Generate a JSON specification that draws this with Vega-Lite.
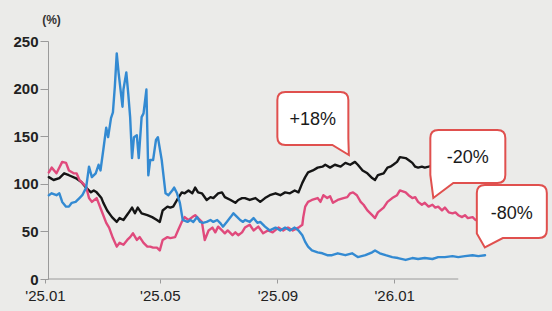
{
  "$schema": "https://vega.github.io/schema/vega-lite/v6.json",
  "width": 463,
  "height": 238,
  "autosize": {"type": "none"},
  "padding": {"left": 45, "top": 41, "right": 44, "bottom": 32},
  "background": "#ebebe9",
  "config": {"view": {"stroke": null}, "font": "Liberation Sans, Arial, sans-serif"},
  "datasets": {
    "axisline": [{"date": "2025-01-04", "date2": "2026-03-09", "value": 0}],
    "callouts": [
      {"label": "+18%", "date": "2025-10-08", "value": 168.6},
      {"label": "-20%", "date": "2026-03-19", "value": 128.7},
      {"label": "-80%", "date": "2026-05-04", "value": 70.9}
    ],
    "prices": [
      {"series": "s1", "date": "2025-01-05", "value": 107},
      {"series": "s1", "date": "2025-01-10", "value": 104},
      {"series": "s1", "date": "2025-01-16", "value": 106},
      {"series": "s1", "date": "2025-01-21", "value": 111},
      {"series": "s1", "date": "2025-01-26", "value": 109},
      {"series": "s1", "date": "2025-02-02", "value": 106},
      {"series": "s1", "date": "2025-02-08", "value": 102},
      {"series": "s1", "date": "2025-02-13", "value": 96},
      {"series": "s1", "date": "2025-02-18", "value": 91},
      {"series": "s1", "date": "2025-02-21", "value": 93},
      {"series": "s1", "date": "2025-02-24", "value": 91},
      {"series": "s1", "date": "2025-03-01", "value": 85},
      {"series": "s1", "date": "2025-03-03", "value": 80},
      {"series": "s1", "date": "2025-03-07", "value": 72},
      {"series": "s1", "date": "2025-03-12", "value": 65},
      {"series": "s1", "date": "2025-03-17", "value": 60},
      {"series": "s1", "date": "2025-03-20", "value": 64},
      {"series": "s1", "date": "2025-03-24", "value": 62},
      {"series": "s1", "date": "2025-03-29", "value": 69},
      {"series": "s1", "date": "2025-04-02", "value": 75},
      {"series": "s1", "date": "2025-04-05", "value": 69},
      {"series": "s1", "date": "2025-04-08", "value": 75},
      {"series": "s1", "date": "2025-04-12", "value": 69},
      {"series": "s1", "date": "2025-04-18", "value": 67},
      {"series": "s1", "date": "2025-04-23", "value": 65},
      {"series": "s1", "date": "2025-04-28", "value": 62},
      {"series": "s1", "date": "2025-05-01", "value": 60},
      {"series": "s1", "date": "2025-05-04", "value": 72},
      {"series": "s1", "date": "2025-05-09", "value": 76},
      {"series": "s1", "date": "2025-05-12", "value": 75},
      {"series": "s1", "date": "2025-05-15", "value": 76},
      {"series": "s1", "date": "2025-05-19", "value": 83},
      {"series": "s1", "date": "2025-05-24", "value": 91},
      {"series": "s1", "date": "2025-05-27", "value": 90},
      {"series": "s1", "date": "2025-05-31", "value": 93},
      {"series": "s1", "date": "2025-06-04", "value": 90},
      {"series": "s1", "date": "2025-06-07", "value": 96},
      {"series": "s1", "date": "2025-06-10", "value": 91},
      {"series": "s1", "date": "2025-06-14", "value": 90},
      {"series": "s1", "date": "2025-06-19", "value": 83},
      {"series": "s1", "date": "2025-06-23", "value": 86},
      {"series": "s1", "date": "2025-06-26", "value": 85},
      {"series": "s1", "date": "2025-07-01", "value": 90},
      {"series": "s1", "date": "2025-07-05", "value": 91},
      {"series": "s1", "date": "2025-07-08", "value": 86},
      {"series": "s1", "date": "2025-07-14", "value": 83},
      {"series": "s1", "date": "2025-07-19", "value": 80},
      {"series": "s1", "date": "2025-07-22", "value": 83},
      {"series": "s1", "date": "2025-07-26", "value": 85},
      {"series": "s1", "date": "2025-07-29", "value": 85},
      {"series": "s1", "date": "2025-08-03", "value": 83},
      {"series": "s1", "date": "2025-08-09", "value": 85},
      {"series": "s1", "date": "2025-08-14", "value": 81},
      {"series": "s1", "date": "2025-08-19", "value": 85},
      {"series": "s1", "date": "2025-08-24", "value": 88},
      {"series": "s1", "date": "2025-08-30", "value": 90},
      {"series": "s1", "date": "2025-09-04", "value": 88},
      {"series": "s1", "date": "2025-09-09", "value": 91},
      {"series": "s1", "date": "2025-09-14", "value": 90},
      {"series": "s1", "date": "2025-09-19", "value": 93},
      {"series": "s1", "date": "2025-09-23", "value": 91},
      {"series": "s1", "date": "2025-09-27", "value": 101},
      {"series": "s1", "date": "2025-09-30", "value": 107},
      {"series": "s1", "date": "2025-10-03", "value": 112},
      {"series": "s1", "date": "2025-10-08", "value": 114},
      {"series": "s1", "date": "2025-10-13", "value": 117},
      {"series": "s1", "date": "2025-10-18", "value": 118},
      {"series": "s1", "date": "2025-10-21", "value": 120},
      {"series": "s1", "date": "2025-10-26", "value": 117},
      {"series": "s1", "date": "2025-10-31", "value": 120},
      {"series": "s1", "date": "2025-11-06", "value": 118},
      {"series": "s1", "date": "2025-11-11", "value": 122},
      {"series": "s1", "date": "2025-11-16", "value": 120},
      {"series": "s1", "date": "2025-11-21", "value": 123},
      {"series": "s1", "date": "2025-11-24", "value": 120},
      {"series": "s1", "date": "2025-11-29", "value": 114},
      {"series": "s1", "date": "2025-12-04", "value": 111},
      {"series": "s1", "date": "2025-12-09", "value": 106},
      {"series": "s1", "date": "2025-12-12", "value": 104},
      {"series": "s1", "date": "2025-12-15", "value": 109},
      {"series": "s1", "date": "2025-12-21", "value": 111},
      {"series": "s1", "date": "2025-12-25", "value": 117},
      {"series": "s1", "date": "2025-12-28", "value": 118},
      {"series": "s1", "date": "2025-12-31", "value": 120},
      {"series": "s1", "date": "2026-01-04", "value": 123},
      {"series": "s1", "date": "2026-01-07", "value": 128},
      {"series": "s1", "date": "2026-01-13", "value": 127},
      {"series": "s1", "date": "2026-01-16", "value": 125},
      {"series": "s1", "date": "2026-01-20", "value": 122},
      {"series": "s1", "date": "2026-01-23", "value": 118},
      {"series": "s1", "date": "2026-01-26", "value": 117},
      {"series": "s1", "date": "2026-01-30", "value": 118},
      {"series": "s1", "date": "2026-02-02", "value": 117},
      {"series": "s1", "date": "2026-02-06", "value": 118},
      {"series": "s1", "date": "2026-02-13", "value": 120},
      {"series": "s1", "date": "2026-02-23", "value": 118},
      {"series": "s1", "date": "2026-03-06", "value": 122},
      {"series": "s1", "date": "2026-03-16", "value": 119},
      {"series": "s1", "date": "2026-03-27", "value": 120},
      {"series": "s1", "date": "2026-04-06", "value": 118},
      {"series": "s2", "date": "2025-01-05", "value": 112},
      {"series": "s2", "date": "2025-01-08", "value": 117},
      {"series": "s2", "date": "2025-01-13", "value": 111},
      {"series": "s2", "date": "2025-01-19", "value": 123},
      {"series": "s2", "date": "2025-01-23", "value": 122},
      {"series": "s2", "date": "2025-01-26", "value": 114},
      {"series": "s2", "date": "2025-01-31", "value": 111},
      {"series": "s2", "date": "2025-02-03", "value": 111},
      {"series": "s2", "date": "2025-02-06", "value": 104},
      {"series": "s2", "date": "2025-02-09", "value": 101},
      {"series": "s2", "date": "2025-02-13", "value": 97},
      {"series": "s2", "date": "2025-02-16", "value": 85},
      {"series": "s2", "date": "2025-02-19", "value": 81},
      {"series": "s2", "date": "2025-02-24", "value": 85},
      {"series": "s2", "date": "2025-03-01", "value": 72},
      {"series": "s2", "date": "2025-03-06", "value": 59},
      {"series": "s2", "date": "2025-03-09", "value": 54},
      {"series": "s2", "date": "2025-03-13", "value": 43},
      {"series": "s2", "date": "2025-03-17", "value": 34},
      {"series": "s2", "date": "2025-03-20", "value": 38},
      {"series": "s2", "date": "2025-03-24", "value": 36},
      {"series": "s2", "date": "2025-03-28", "value": 41},
      {"series": "s2", "date": "2025-03-31", "value": 44},
      {"series": "s2", "date": "2025-04-03", "value": 48},
      {"series": "s2", "date": "2025-04-07", "value": 41},
      {"series": "s2", "date": "2025-04-10", "value": 44},
      {"series": "s2", "date": "2025-04-14", "value": 38},
      {"series": "s2", "date": "2025-04-18", "value": 34},
      {"series": "s2", "date": "2025-04-21", "value": 34},
      {"series": "s2", "date": "2025-04-24", "value": 33},
      {"series": "s2", "date": "2025-04-28", "value": 33},
      {"series": "s2", "date": "2025-05-01", "value": 30},
      {"series": "s2", "date": "2025-05-04", "value": 41},
      {"series": "s2", "date": "2025-05-09", "value": 44},
      {"series": "s2", "date": "2025-05-12", "value": 43},
      {"series": "s2", "date": "2025-05-17", "value": 44},
      {"series": "s2", "date": "2025-05-20", "value": 51},
      {"series": "s2", "date": "2025-05-24", "value": 60},
      {"series": "s2", "date": "2025-05-27", "value": 65},
      {"series": "s2", "date": "2025-05-31", "value": 62},
      {"series": "s2", "date": "2025-06-04", "value": 65},
      {"series": "s2", "date": "2025-06-07", "value": 67},
      {"series": "s2", "date": "2025-06-10", "value": 64},
      {"series": "s2", "date": "2025-06-14", "value": 60},
      {"series": "s2", "date": "2025-06-17", "value": 41},
      {"series": "s2", "date": "2025-06-21", "value": 51},
      {"series": "s2", "date": "2025-06-25", "value": 54},
      {"series": "s2", "date": "2025-06-28", "value": 49},
      {"series": "s2", "date": "2025-07-01", "value": 55},
      {"series": "s2", "date": "2025-07-05", "value": 51},
      {"series": "s2", "date": "2025-07-08", "value": 48},
      {"series": "s2", "date": "2025-07-11", "value": 51},
      {"series": "s2", "date": "2025-07-16", "value": 46},
      {"series": "s2", "date": "2025-07-19", "value": 49},
      {"series": "s2", "date": "2025-07-22", "value": 46},
      {"series": "s2", "date": "2025-07-26", "value": 49},
      {"series": "s2", "date": "2025-07-29", "value": 54},
      {"series": "s2", "date": "2025-08-03", "value": 57},
      {"series": "s2", "date": "2025-08-07", "value": 51},
      {"series": "s2", "date": "2025-08-12", "value": 55},
      {"series": "s2", "date": "2025-08-17", "value": 48},
      {"series": "s2", "date": "2025-08-22", "value": 51},
      {"series": "s2", "date": "2025-08-27", "value": 49},
      {"series": "s2", "date": "2025-09-02", "value": 54},
      {"series": "s2", "date": "2025-09-07", "value": 51},
      {"series": "s2", "date": "2025-09-12", "value": 54},
      {"series": "s2", "date": "2025-09-17", "value": 51},
      {"series": "s2", "date": "2025-09-23", "value": 54},
      {"series": "s2", "date": "2025-09-27", "value": 57},
      {"series": "s2", "date": "2025-09-28", "value": 65},
      {"series": "s2", "date": "2025-09-30", "value": 76},
      {"series": "s2", "date": "2025-10-03", "value": 81},
      {"series": "s2", "date": "2025-10-07", "value": 83},
      {"series": "s2", "date": "2025-10-13", "value": 85},
      {"series": "s2", "date": "2025-10-16", "value": 81},
      {"series": "s2", "date": "2025-10-19", "value": 88},
      {"series": "s2", "date": "2025-10-23", "value": 85},
      {"series": "s2", "date": "2025-10-26", "value": 87},
      {"series": "s2", "date": "2025-10-29", "value": 80},
      {"series": "s2", "date": "2025-11-03", "value": 83},
      {"series": "s2", "date": "2025-11-09", "value": 85},
      {"series": "s2", "date": "2025-11-13", "value": 86},
      {"series": "s2", "date": "2025-11-16", "value": 90},
      {"series": "s2", "date": "2025-11-19", "value": 91},
      {"series": "s2", "date": "2025-11-23", "value": 88},
      {"series": "s2", "date": "2025-11-27", "value": 81},
      {"series": "s2", "date": "2025-11-30", "value": 78},
      {"series": "s2", "date": "2025-12-04", "value": 72},
      {"series": "s2", "date": "2025-12-09", "value": 67},
      {"series": "s2", "date": "2025-12-12", "value": 64},
      {"series": "s2", "date": "2025-12-15", "value": 70},
      {"series": "s2", "date": "2025-12-21", "value": 75},
      {"series": "s2", "date": "2025-12-25", "value": 81},
      {"series": "s2", "date": "2025-12-30", "value": 85},
      {"series": "s2", "date": "2026-01-04", "value": 88},
      {"series": "s2", "date": "2026-01-07", "value": 93},
      {"series": "s2", "date": "2026-01-13", "value": 91},
      {"series": "s2", "date": "2026-01-16", "value": 88},
      {"series": "s2", "date": "2026-01-20", "value": 85},
      {"series": "s2", "date": "2026-01-23", "value": 86},
      {"series": "s2", "date": "2026-01-26", "value": 81},
      {"series": "s2", "date": "2026-01-30", "value": 78},
      {"series": "s2", "date": "2026-02-02", "value": 80},
      {"series": "s2", "date": "2026-02-06", "value": 76},
      {"series": "s2", "date": "2026-02-10", "value": 78},
      {"series": "s2", "date": "2026-02-13", "value": 75},
      {"series": "s2", "date": "2026-02-16", "value": 76},
      {"series": "s2", "date": "2026-02-20", "value": 72},
      {"series": "s2", "date": "2026-02-23", "value": 75},
      {"series": "s2", "date": "2026-02-27", "value": 70},
      {"series": "s2", "date": "2026-03-03", "value": 69},
      {"series": "s2", "date": "2026-03-06", "value": 70},
      {"series": "s2", "date": "2026-03-09", "value": 67},
      {"series": "s2", "date": "2026-03-13", "value": 65},
      {"series": "s2", "date": "2026-03-16", "value": 67},
      {"series": "s2", "date": "2026-03-19", "value": 64},
      {"series": "s2", "date": "2026-03-24", "value": 65},
      {"series": "s2", "date": "2026-03-27", "value": 62},
      {"series": "s2", "date": "2026-04-01", "value": 63},
      {"series": "s2", "date": "2026-04-06", "value": 61},
      {"series": "s3", "date": "2025-01-05", "value": 88},
      {"series": "s3", "date": "2025-01-08", "value": 90},
      {"series": "s3", "date": "2025-01-13", "value": 88},
      {"series": "s3", "date": "2025-01-16", "value": 90},
      {"series": "s3", "date": "2025-01-19", "value": 81},
      {"series": "s3", "date": "2025-01-23", "value": 76},
      {"series": "s3", "date": "2025-01-26", "value": 76},
      {"series": "s3", "date": "2025-01-29", "value": 80},
      {"series": "s3", "date": "2025-02-02", "value": 81},
      {"series": "s3", "date": "2025-02-06", "value": 85},
      {"series": "s3", "date": "2025-02-09", "value": 88},
      {"series": "s3", "date": "2025-02-13", "value": 96},
      {"series": "s3", "date": "2025-02-16", "value": 118},
      {"series": "s3", "date": "2025-02-19", "value": 107},
      {"series": "s3", "date": "2025-02-23", "value": 111},
      {"series": "s3", "date": "2025-02-26", "value": 120},
      {"series": "s3", "date": "2025-02-28", "value": 114},
      {"series": "s3", "date": "2025-03-03", "value": 136},
      {"series": "s3", "date": "2025-03-06", "value": 159},
      {"series": "s3", "date": "2025-03-08", "value": 149},
      {"series": "s3", "date": "2025-03-11", "value": 169},
      {"series": "s3", "date": "2025-03-13", "value": 175},
      {"series": "s3", "date": "2025-03-15", "value": 202},
      {"series": "s3", "date": "2025-03-17", "value": 237},
      {"series": "s3", "date": "2025-03-19", "value": 216},
      {"series": "s3", "date": "2025-03-23", "value": 181},
      {"series": "s3", "date": "2025-03-24", "value": 199},
      {"series": "s3", "date": "2025-03-27", "value": 217},
      {"series": "s3", "date": "2025-03-29", "value": 195},
      {"series": "s3", "date": "2025-03-31", "value": 170},
      {"series": "s3", "date": "2025-04-02", "value": 127},
      {"series": "s3", "date": "2025-04-04", "value": 149},
      {"series": "s3", "date": "2025-04-07", "value": 151},
      {"series": "s3", "date": "2025-04-09", "value": 127},
      {"series": "s3", "date": "2025-04-12", "value": 170},
      {"series": "s3", "date": "2025-04-14", "value": 174},
      {"series": "s3", "date": "2025-04-17", "value": 199},
      {"series": "s3", "date": "2025-04-19", "value": 109},
      {"series": "s3", "date": "2025-04-21", "value": 125},
      {"series": "s3", "date": "2025-04-24", "value": 125},
      {"series": "s3", "date": "2025-04-27", "value": 146},
      {"series": "s3", "date": "2025-04-29", "value": 149},
      {"series": "s3", "date": "2025-05-03", "value": 125},
      {"series": "s3", "date": "2025-05-07", "value": 90},
      {"series": "s3", "date": "2025-05-10", "value": 88},
      {"series": "s3", "date": "2025-05-14", "value": 93},
      {"series": "s3", "date": "2025-05-16", "value": 96},
      {"series": "s3", "date": "2025-05-19", "value": 90},
      {"series": "s3", "date": "2025-05-22", "value": 80},
      {"series": "s3", "date": "2025-05-25", "value": 62},
      {"series": "s3", "date": "2025-05-30", "value": 60},
      {"series": "s3", "date": "2025-06-02", "value": 62},
      {"series": "s3", "date": "2025-06-05", "value": 60},
      {"series": "s3", "date": "2025-06-09", "value": 65},
      {"series": "s3", "date": "2025-06-12", "value": 60},
      {"series": "s3", "date": "2025-06-15", "value": 59},
      {"series": "s3", "date": "2025-06-19", "value": 60},
      {"series": "s3", "date": "2025-06-23", "value": 62},
      {"series": "s3", "date": "2025-06-26", "value": 60},
      {"series": "s3", "date": "2025-06-30", "value": 62},
      {"series": "s3", "date": "2025-07-03", "value": 59},
      {"series": "s3", "date": "2025-07-06", "value": 55},
      {"series": "s3", "date": "2025-07-10", "value": 60},
      {"series": "s3", "date": "2025-07-14", "value": 65},
      {"series": "s3", "date": "2025-07-17", "value": 69},
      {"series": "s3", "date": "2025-07-21", "value": 65},
      {"series": "s3", "date": "2025-07-24", "value": 62},
      {"series": "s3", "date": "2025-07-27", "value": 60},
      {"series": "s3", "date": "2025-07-29", "value": 62},
      {"series": "s3", "date": "2025-08-03", "value": 60},
      {"series": "s3", "date": "2025-08-07", "value": 64},
      {"series": "s3", "date": "2025-08-11", "value": 59},
      {"series": "s3", "date": "2025-08-14", "value": 60},
      {"series": "s3", "date": "2025-08-19", "value": 55},
      {"series": "s3", "date": "2025-08-24", "value": 51},
      {"series": "s3", "date": "2025-08-30", "value": 54},
      {"series": "s3", "date": "2025-09-04", "value": 51},
      {"series": "s3", "date": "2025-09-09", "value": 54},
      {"series": "s3", "date": "2025-09-14", "value": 51},
      {"series": "s3", "date": "2025-09-19", "value": 54},
      {"series": "s3", "date": "2025-09-23", "value": 51},
      {"series": "s3", "date": "2025-09-27", "value": 46},
      {"series": "s3", "date": "2025-09-30", "value": 39},
      {"series": "s3", "date": "2025-10-03", "value": 34},
      {"series": "s3", "date": "2025-10-07", "value": 30},
      {"series": "s3", "date": "2025-10-13", "value": 28},
      {"series": "s3", "date": "2025-10-18", "value": 27},
      {"series": "s3", "date": "2025-10-23", "value": 25},
      {"series": "s3", "date": "2025-10-28", "value": 25},
      {"series": "s3", "date": "2025-11-03", "value": 27},
      {"series": "s3", "date": "2025-11-11", "value": 25},
      {"series": "s3", "date": "2025-11-18", "value": 27},
      {"series": "s3", "date": "2025-11-24", "value": 23},
      {"series": "s3", "date": "2025-12-02", "value": 25},
      {"series": "s3", "date": "2025-12-09", "value": 28},
      {"series": "s3", "date": "2025-12-12", "value": 30},
      {"series": "s3", "date": "2025-12-17", "value": 27},
      {"series": "s3", "date": "2025-12-23", "value": 25},
      {"series": "s3", "date": "2025-12-30", "value": 23},
      {"series": "s3", "date": "2026-01-05", "value": 22},
      {"series": "s3", "date": "2026-01-13", "value": 20},
      {"series": "s3", "date": "2026-01-20", "value": 22},
      {"series": "s3", "date": "2026-01-26", "value": 21},
      {"series": "s3", "date": "2026-02-02", "value": 22},
      {"series": "s3", "date": "2026-02-10", "value": 21},
      {"series": "s3", "date": "2026-02-16", "value": 23},
      {"series": "s3", "date": "2026-02-23", "value": 23},
      {"series": "s3", "date": "2026-03-03", "value": 24},
      {"series": "s3", "date": "2026-03-09", "value": 23},
      {"series": "s3", "date": "2026-03-16", "value": 24},
      {"series": "s3", "date": "2026-03-24", "value": 25},
      {"series": "s3", "date": "2026-03-30", "value": 24},
      {"series": "s3", "date": "2026-04-06", "value": 25}
    ]
  },
  "layer": [
    {
      "data": {"name": "prices"},
      "mark": {"type": "line", "strokeWidth": 2.4, "strokeJoin": "round", "strokeCap": "round"},
      "encoding": {
        "x": {
          "field": "date", "type": "temporal",
          "scale": {"type": "utc", "domain": [{"year": 2025, "month": 1, "date": 1, "utc": true}, {"year": 2026, "month": 4, "date": 30, "utc": true}]},
          "axis": {
            "title": null, "domain": false, "grid": false,
            "values": [{"year": 2025, "month": 1, "date": 1, "utc": true}, {"year": 2025, "month": 5, "date": 1, "utc": true}, {"year": 2025, "month": 9, "date": 1, "utc": true}, {"year": 2026, "month": 1, "date": 1, "utc": true}],
            "labelExpr": "\"'\" + utcFormat(datum.value, '%y.%m')",
            "tickSize": 4, "tickColor": "#9a9a9a", "labelPadding": 5,
            "labelFontSize": 15, "labelColor": "#222222", "labelFlush": false, "labelOverlap": false
          }
        },
        "y": {
          "field": "value", "type": "quantitative",
          "scale": {"domain": [0, 250], "nice": false},
          "axis": {
            "title": "(%)", "titleAngle": 0, "titleX": 3, "titleY": -18, "titleAlign": "center", "titleBaseline": "alphabetic",
            "titleFontSize": 12, "titleFontWeight": "bold", "titleColor": "#333333",
            "offset": -3, "grid": false, "values": [0, 50, 100, 150, 200, 250],
            "domainColor": "#9a9a9a", "tickColor": "#9a9a9a", "tickSize": 8, "labelPadding": 2,
            "labelFontSize": 15, "labelFontWeight": "bold", "labelColor": "#222222"
          }
        },
        "color": {
          "field": "series", "type": "nominal", "legend": null,
          "scale": {"domain": ["s1", "s2", "s3"], "range": ["#151515", "#e04a7c", "#338ad2"]}
        }
      }
    },
    {
      "data": {"name": "axisline"},
      "mark": {"type": "rule", "color": "#9a9a9a", "strokeWidth": 1},
      "encoding": {
        "x": {"field": "date", "type": "temporal"},
        "x2": {"field": "date2"},
        "y": {"field": "value", "type": "quantitative"}
      }
    },
    {
      "data": {"name": "callouts"},
      "mark": {"type": "point", "filled": true, "fill": "#ffffff", "stroke": "#e0504e", "strokeWidth": 2, "size": 10000, "opacity": 1},
      "encoding": {
        "x": {"field": "date", "type": "temporal"},
        "y": {"field": "value", "type": "quantitative"},
        "shape": {
          "field": "label", "type": "nominal", "legend": null,
          "scale": {
            "domain": ["+18%", "-20%", "-80%"],
            "range": [
              "M -0.55,-0.53 L 0.55,-0.53 Q 0.71,-0.53 0.71,-0.37 L 0.71,0.4 L 0.72,0.73 L 0.39,0.53 L -0.55,0.53 Q -0.71,0.53 -0.71,0.37 L -0.71,-0.37 Q -0.71,-0.53 -0.55,-0.53 Z",
              "M -0.59,-0.53 L 0.59,-0.53 Q 0.75,-0.53 0.75,-0.37 L 0.75,0.37 Q 0.75,0.53 0.59,0.53 L -0.29,0.53 L -0.69,0.83 L -0.75,0.37 L -0.75,-0.37 Q -0.75,-0.53 -0.59,-0.53 Z",
              "M -0.54,-0.53 L 0.54,-0.53 Q 0.7,-0.53 0.7,-0.37 L 0.7,0.37 Q 0.7,0.53 0.54,0.53 L -0.18,0.53 L -0.54,0.72 L -0.7,0.44 L -0.7,-0.37 Q -0.7,-0.53 -0.54,-0.53 Z"
            ]
          }
        }
      }
    },
    {
      "data": {"name": "callouts"},
      "mark": {"type": "text", "fontSize": 18, "color": "#1a1a1a", "baseline": "middle", "align": "center", "dy": 2},
      "encoding": {
        "x": {"field": "date", "type": "temporal"},
        "y": {"field": "value", "type": "quantitative"},
        "text": {"field": "label"}
      }
    }
  ]
}
